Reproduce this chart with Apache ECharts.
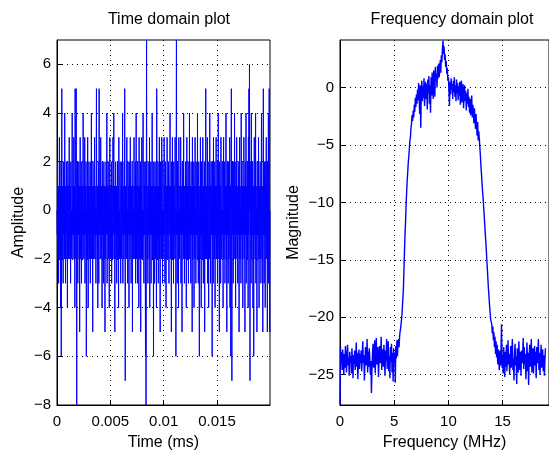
<!DOCTYPE html>
<html>
<head>
<meta charset="utf-8">
<title>Time and frequency domain plot</title>
<script src="https://cdn.jsdelivr.net/npm/echarts@6/dist/echarts.min.js"></script>
<style>
  html, body { margin: 0; padding: 0; background: #fff; }
  #chart { width: 549px; height: 460px; }
</style>
</head>
<body>
<div id="chart"></div>
<script>
// time domain: one sample every 0.000025 ms
var timeStep = 0.000025
var amplitude = [
    0, -1, 2, -2, 1, 0, -3, 1, -1, 3, -2, 0, 1, -1, -4, 2, -6, 0, 5, -1,
    -2, 1, 0, -3, 2, -1, 0, 1, -2, 4, -1, 0, -3, 1, -1, 2, 0, -2, 1, -4,
    0, 2, -1, -2, 1, 0, 3, -1, -2, 0, 1, -3, 2, -1, 0, -2, 1, 4, -1, 0,
    -2, 1, -1, 3, 0, -2, 1, -4, 5, -1, 0, -2, 5, 1, -8, 0, -1, 2, -3, 1,
    0, -1, 2, -2, 1, -5, 0, 3, -1, -2, 1, 0, -3, 2, -1, 0, 1, -2, 4, -1,
    0, -2, 1, -1, 3, -3, 0, 1, -1, 2, -6, 0, -1, 1, -2, 3, 0, -4, 1, -1,
    2, 0, -2, 1, -1, -3, 0, 2, -1, 4, -2, 0, 1, -1, -5, 2, 0, -2, 1, -1,
    0, 3, -2, 1, -1, 0, -3, 2, 5, -1, 0, -2, 1, -4, 0, 2, -1, -3, 5, 0,
    -1, 1, -2, 0, 3, -1, -2, 1, 0, -4, 2, -1, 0, 1, -3, 0, 2, -2, 1, -1,
    -5, 1, 0, -2, 2, -1, 0, 4, -3, 1, -1, 0, 2, -2, -1, 1, -4, 0, 3, -1,
    0, -2, 1, -1, 2, -3, 0, 1, -1, -2, 3, 0, -1, 4, -2, 1, 0, -5, 1, -1,
    2, -2, 0, 1, -3, 0, -1, 2, -2, 1, 0, -4, 3, -1, 0, -2, 1, 2, -1, -3,
    0, 1, -2, 2, -1, 0, 4, -3, 1, -1, 0, -2, 2, -1, 5, 0, -7, 1, -1, 0,
    -2, 1, 3, -1, 0, -3, 2, -1, 0, 1, -4, 2, -1, 0, -2, 3, -1, 1, -3, 0,
    1, -1, 2, -5, 0, 1, -2, 0, -1, 3, -2, 1, 0, -1, 2, -3, 0, 4, -2, 1,
    -1, 0, -3, 2, -1, 1, 0, -4, 3, -2, 1, 0, -1, 2, -5, 1, 0, -2, 3, -1,
    0, -2, 1, 4, -1, 0, -3, 2, -1, 1, 0, -2, -6, 2, -8, 0, 7, -1, 1, -2,
    0, -3, 2, -1, 1, 0, -2, 3, -4, 1, -1, 0, 2, -3, 1, -1, 0, 4, -2, 1,
    -1, 0, -6, 2, -1, 1, -3, 0, 2, -2, 1, -1, 0, -4, 5, 0, -2, 1, -1, 2,
    -3, 0, 1, -1, 3, -2, 0, -5, 2, -1, 1, 0, -2, 3, -1, 0, -3, 2, 1, -1,
    0, -2, 3, -1, 1, -3, 0, 2, -1, -4, 1, 0, -2, 3, -1, 1, -2, 0, 2, -1,
    -3, 1, 0, -1, 4, -2, 0, 1, -1, -5, 2, 0, -1, 3, -2, 1, 0, -3, 2, -1,
    0, 1, -2, 3, -1, 0, -6, 2, 7, -1, 0, -3, 2, -1, 1, 0, -4, 3, -1, 0,
    -2, 1, 0, -1, 3, -3, 1, -1, 0, -5, 2, -1, 0, 1, -2, 4, -1, 0, -3, 1,
    0, -1, 2, -2, 1, -4, 0, 3, -1, 1, -2, 0, 2, -3, 1, -1, 0, 4, -2, 0,
    -1, 1, -3, 2, 0, -1, 1, -5, 3, -2, 0, 1, -1, 2, -4, 0, 1, -2, 3, -1,
    0, -3, 2, -1, 1, 0, -2, 4, -1, 0, -3, 1, 2, -1, -6, 0, 1, -2, 3, -1,
    0, -4, 2, -1, 1, 0, -2, 3, -1, -3, 1, 0, -1, 2, -5, 1, 0, -2, 5, -1,
    0, -2, 1, -1, 3, -3, 0, 2, -1, -4, 1, 0, -2, 4, -1, 1, -3, 0, 2, -1,
    0, 1, -6, 2, -1, 0, -3, 3, -1, 1, -2, 0, 2, -4, 1, -1, 0, 3, -2, 1,
    -1, 0, -3, 2, -1, 4, 0, -2, 1, -5, 2, -1, 0, 1, -3, 3, -1, 0, -2, 1,
    2, -1, 0, -4, 1, 3, -2, 0, -1, 2, -3, 1, 0, -1, 4, -2, 1, -5, 0, 2,
    -1, 1, -3, 0, 2, -2, 1, -1, 3, -4, 0, 1, -6, 2, 5, -1, -7, 0, 2, -1,
    1, -3, 0, 2, -1, -2, 4, 0, -1, 1, -4, 2, -1, 0, 3, -2, 1, -1, -3, 0,
    2, -1, 1, -5, 0, 3, -2, 1, -1, 0, -3, 4, -1, 0, 2, -2, 1, -4, 0, 1,
    -1, 3, -2, 0, 1, -5, 2, -1, 0, 4, -3, 1, -1, 0, 2, -2, 1, -4, 3, -1,
    5, 0, 6, -1, -7, 2, -1, 0, -3, 4, -2, 1, 0, -1, 2, -4, 1, -1, -6, 0,
    3, -1, 1, -2, 0, 4, -3, 1, -1, 0, -5, 2, -1, 1, 0, -2, 3, -1, -4, 1,
    0, -2, 2, -1, 1, -3, 0, 4, -1, -2, 1, 0, -5, 2, 5, -1, 0, -3, 2, -1,
    1, -4, 0, 2, -1, 3, -2, 0, 1, -5, 2, -1, 0, 4, -3, 1, 5, -2, -5, 0
]

// frequency domain: one bin every 0.05 MHz, one row per MHz
var freqStep = 0.05
var magnitude = [
    -27.6, -22.6, -24.1, -23.0, -24.6, -22.8, -23.9, -25.0, -23.2, -24.4, -22.5, -23.7, -24.8, -23.1, -22.4, -24.2, -23.5, -25.1, -23.0, -24.0,
    -23.4, -24.9, -22.7, -23.8, -25.3, -23.3, -24.1, -22.9, -24.6, -23.6, -22.2, -24.3, -23.1, -25.4, -23.8, -22.8, -24.5, -23.2, -24.0, -22.9,
    -24.7, -23.5, -22.1, -24.0, -23.3, -25.5, -23.9, -22.6, -24.2, -23.4, -21.9, -24.8, -23.0, -24.3, -22.7, -23.6, -25.0, -23.8, -26.6, -24.5,
    -23.1, -22.3, -24.4, -23.7, -22.0, -24.9, -23.2, -21.8, -24.1, -23.5, -22.6, -25.2, -23.9, -22.5, -24.0, -23.3, -21.7, -24.6, -23.0, -22.8,
    -24.3, -22.4, -23.6, -25.1, -22.9, -23.8, -21.9, -24.5, -23.2, -22.1, -24.7, -23.4, -25.3, -22.6, -23.9, -22.3, -24.8, -23.1, -25.6, -22.7,
    -24.0, -23.1, -25.7, -22.5, -23.6, -22.0, -23.4, -22.3, -21.9, -22.6, -21.6, -21.2, -20.9, -20.4, -20.0, -19.2, -18.4, -17.5, -15.8, -14.2,
    -12.8, -11.6, -10.2, -9.0, -8.1, -7.3, -6.5, -6.0, -5.3, -4.6, -4.3, -3.5, -3.1, -2.4, -2.9, -2.0, -2.6, -1.5, -2.1, -0.9,
    -1.7, -0.6, -1.4, -0.2, -1.1, 0.4, -0.8, -2.3, 0.2, -3.5, -0.4, 0.6, -1.2, 0.1, -0.9, 0.8, -1.6, -0.3, 0.5, -1.0,
    0.3, -1.9, 0.7, -0.5, 1.0, -1.4, 0.2, -2.2, 0.9, -0.7, 1.3, 0.1, -1.0, 1.5, 0.4, -0.8, 1.8, 0.6, 1.2, 0.0,
    1.9, 0.8, 2.1, 0.9, 1.6, 2.4, 1.3, 2.8, 2.2, 3.4, 4.1, 2.9, 3.6, 2.4, 2.9, 1.8, 2.3, 1.2, 1.7, 0.6,
    0.9, -0.3, -1.6, 0.5, -0.6, 0.8, -0.2, 0.3, -1.0, 0.6, -0.4, 0.9, -0.8, 0.2, -1.2, 0.7, -0.5, 0.4, -1.1, 0.1,
    -0.7, 0.5, -1.5, -0.2, 0.6, -1.3, -0.4, 0.3, -1.8, -0.6, 0.2, -1.2, -0.3, -2.0, -0.5, -1.4, -0.1, -1.7, -0.8, -2.2,
    -1.0, -2.4, -1.3, -0.7, -2.6, -1.5, -2.0, -3.1, -1.8, -2.7, -3.6, -2.3, -3.3, -4.2, -3.0, -4.6, -3.8, -4.4, -5.2, -5.9,
    -6.8, -7.5, -8.3, -9.0, -9.6, -10.4, -11.1, -11.9, -12.7, -13.4, -14.2, -15.1, -15.9, -16.8, -17.6, -18.3, -19.0, -19.6, -20.2, -20.4,
    -20.6, -21.4, -20.8, -22.0, -21.3, -22.6, -21.7, -23.2, -22.1, -23.5, -22.4, -24.1, -22.8, -23.9, -24.6, -22.9, -24.2, -23.1, -20.6, -24.4,
    -23.3, -24.9, -22.6, -23.8, -25.2, -23.0, -24.3, -22.4, -24.7, -23.5, -22.0, -24.1, -23.2, -25.0, -23.7, -22.5, -24.4, -23.0, -21.9, -24.6,
    -23.6, -25.5, -23.1, -22.3, -24.2, -23.4, -25.8, -22.7, -23.9, -24.8, -22.1, -23.5, -24.6, -23.0, -25.1, -22.9, -24.0, -23.3, -21.8, -24.5,
    -22.6, -24.1, -23.2, -25.4, -23.8, -22.2, -24.7, -23.1, -25.9, -23.6, -22.4, -24.3, -23.0, -21.9, -24.8, -23.5, -22.7, -24.9, -23.3, -22.5,
    -24.2, -23.0, -25.3, -22.6, -24.0, -23.4, -21.9, -24.6, -23.1, -25.0, -23.7, -22.4, -24.4, -23.2, -22.8, -24.7, -23.3, -25.1, -23.9, -22.7
]

// tick labels
var timeTicks = [0, 0.005, 0.01, 0.015]
var ampTicks = [-8, -6, -4, -2, 0, 2, 4, 6]
var freqTicks = [0, 5, 10, 15]
var magTicks = [-25, -20, -15, -10, -5, 0]

var font = 'Liberation Sans, Arial, Helvetica, sans-serif'

var timeData = amplitude.map(function (v, i) { return [i * timeStep, v] })
var freqData = magnitude.map(function (v, i) { return [i * freqStep, v] })

function minus(v) {
    return String(v).replace('-', '\u2212')
}

function makeAxis(ticks, min, max, name, gap, isY) {
    return {
        type: 'value',
        min: min,
        max: max,
        name: name,
        nameLocation: 'middle',
        nameGap: gap,
        nameTextStyle: { color: '#000', fontSize: 16, fontFamily: font },
        axisLine: { show: true, onZero: false, lineStyle: { color: '#000', width: 1 } },
        axisTick: { show: true, inside: true, length: 5, customValues: ticks, lineStyle: { color: '#000' } },
        axisLabel: {
            customValues: ticks,
            color: '#000',
            fontSize: 15,
            fontFamily: font,
            margin: isY ? 6 : 9,
            formatter: minus
        },
        splitLine: { show: true, lineStyle: { color: '#000', width: 1, type: [1, 4] } }
    }
}

var option = {
    animation: false,
    backgroundColor: '#fff',
    title: [
        {
            text: 'Time domain plot',
            left: 164,
            top: 7,
            textAlign: 'center',
            textStyle: { color: '#000', fontSize: 16, fontWeight: 'normal', fontFamily: font }
        },
        {
            text: 'Frequency domain plot',
            left: 447,
            top: 7,
            textAlign: 'center',
            textStyle: { color: '#000', fontSize: 16, fontWeight: 'normal', fontFamily: font }
        }
    ],
    grid: [
        { left: 57, top: 40, width: 213, height: 365, show: true, borderColor: '#000', borderWidth: 1 },
        { left: 340, top: 40, width: 215, height: 365, show: true, borderColor: '#000', borderWidth: 1 }
    ],
    xAxis: [
        Object.assign(makeAxis(timeTicks, 0, 0.019975, 'Time (ms)', 30, false), { gridIndex: 0 }),
        Object.assign(makeAxis(freqTicks, 0, 19.28, 'Frequency (MHz)', 30, false), { gridIndex: 1 })
    ],
    yAxis: [
        Object.assign(makeAxis(ampTicks, -8, 7, 'Amplitude', 30, true), { gridIndex: 0 }),
        Object.assign(makeAxis(magTicks, -27.64, 4.14, 'Magnitude', 38, true), { gridIndex: 1 })
    ],
    series: [
        {
            type: 'line',
            xAxisIndex: 0,
            yAxisIndex: 0,
            data: timeData,
            showSymbol: false,
            lineStyle: { color: '#0000ff', width: 1 },
            itemStyle: { color: '#0000ff' }
        },
        {
            type: 'line',
            xAxisIndex: 1,
            yAxisIndex: 1,
            data: freqData,
            showSymbol: false,
            lineStyle: { color: '#0000ff', width: 1.4 },
            itemStyle: { color: '#0000ff' }
        }
    ]
}

var chart = echarts.init(document.getElementById('chart'))
chart.setOption(option)
window.addEventListener('resize', function () { chart.resize() })
</script>
</body>
</html>
